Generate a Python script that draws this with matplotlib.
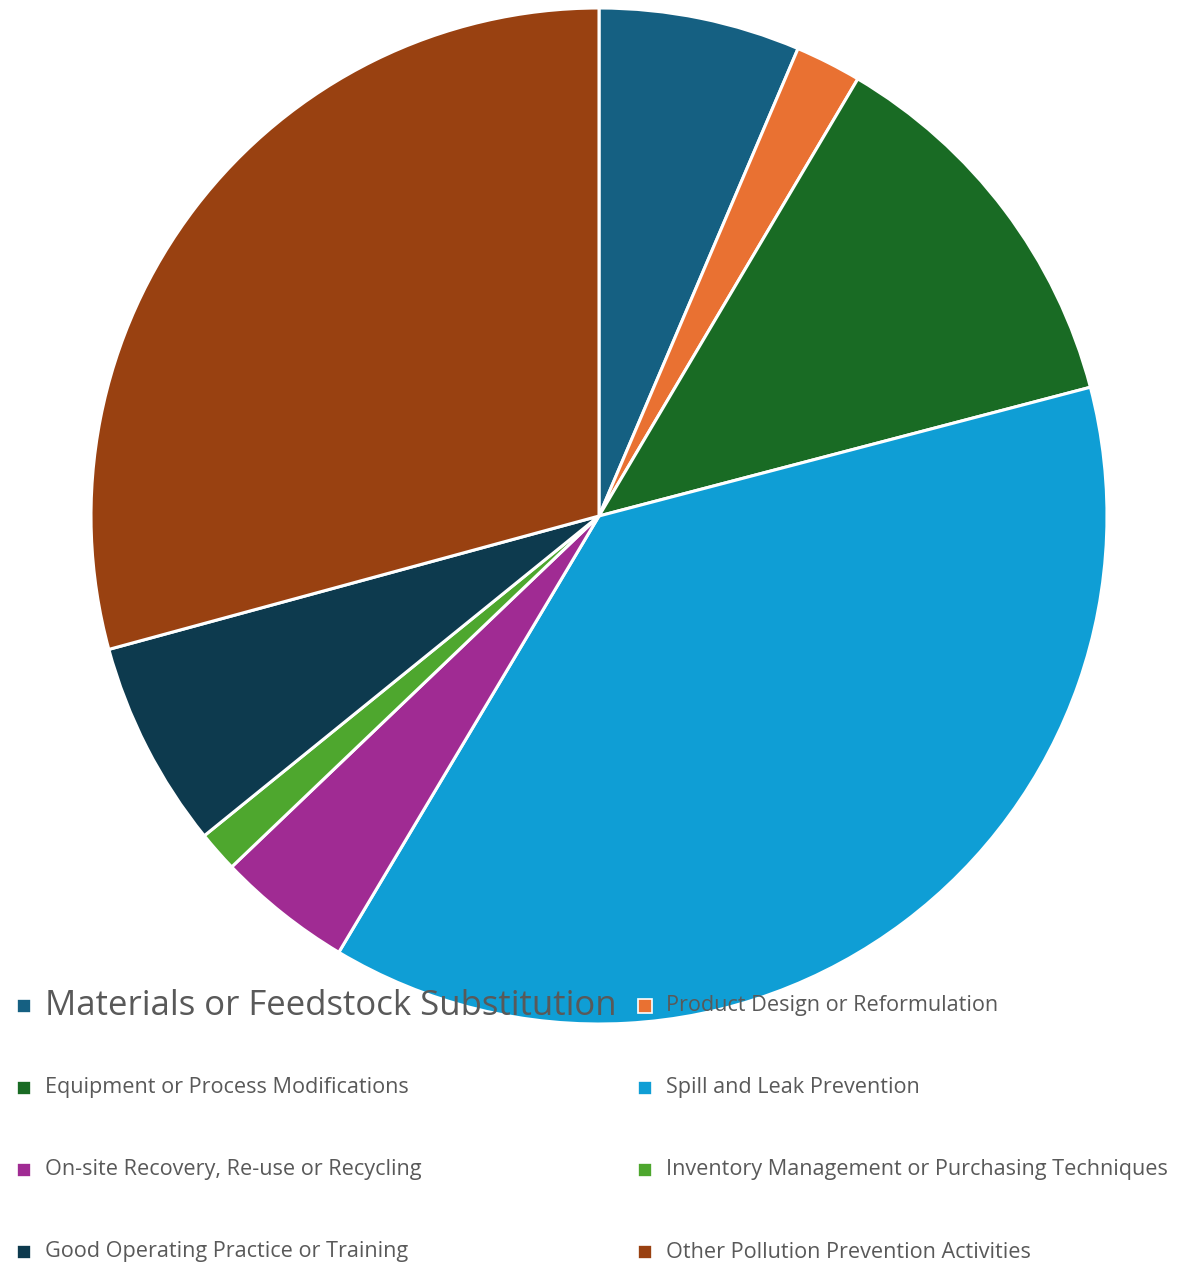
import matplotlib
matplotlib.use("Agg")
import matplotlib.pyplot as plt
from matplotlib.patches import Rectangle

categories = [
    "Materials or Feedstock Substitution",
    "Product Design or Reformulation",
    "Equipment or Process Modifications",
    "Spill and Leak Prevention",
    "On-site Recovery, Re-use or Recycling",
    "Inventory Management or Purchasing Techniques",
    "Good Operating Practice or Training",
    "Other Pollution Prevention Activities",
]
values = [6.4, 2.1, 12.4, 37.6, 4.3, 1.3, 6.6, 29.2]
colors = ["#156082", "#E97132", "#196B24", "#0F9ED5",
          "#A02B93", "#4EA72E", "#0D3A4E", "#994111"]

W, H = 1179, 1266
fig = plt.figure(figsize=(W / 100, H / 100), dpi=100)
ax = fig.add_axes([0, 0, 1, 1])

ax.pie(values, colors=colors, startangle=90, counterclock=False,
       center=(599, H - 516), radius=508,
       wedgeprops=dict(edgecolor="white", linewidth=2.2))
ax.set_xlim(0, W)
ax.set_ylim(0, H)
ax.set_aspect("equal")
ax.axis("off")

font = "Open Sans"
text_color = "#595959"
col_x = [17, 638]
row_y = [1006, 1088, 1170, 1252]
sizes = [25.0] + [15.6] * 7
for i, (lab, c) in enumerate(zip(categories, colors)):
    r, col = divmod(i, 2)
    x0 = col_x[col]
    yc = H - row_y[r]
    ax.add_patch(Rectangle((x0, yc - 7), 14, 14, facecolor=c,
                           edgecolor="white", linewidth=1.2, zorder=5))
    ax.text(x0 + 28, yc, lab, fontsize=sizes[i], color=text_color,
            family=font, va="center", ha="left", zorder=6)

fig.savefig("out.png", dpi=100)
